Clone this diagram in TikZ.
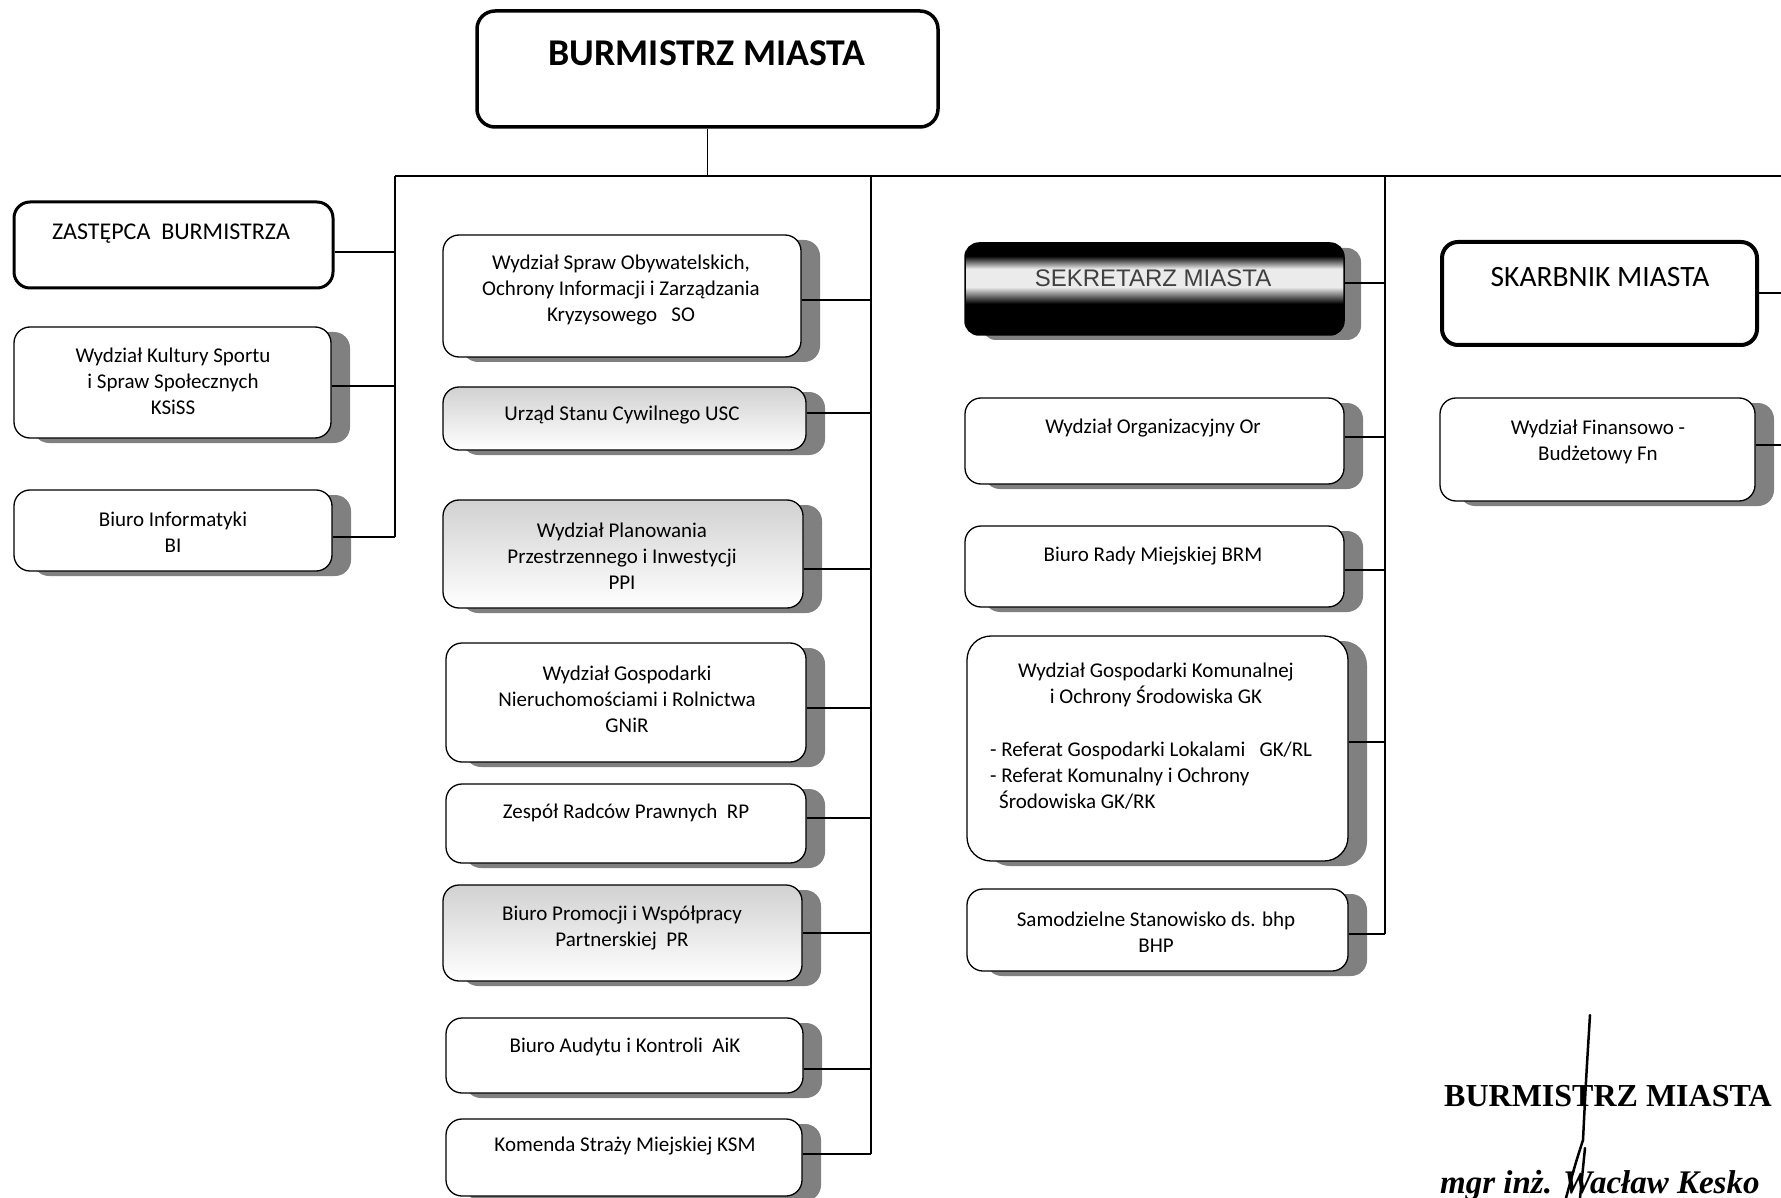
\documentclass[tikz,border=0pt]{standalone}
\usepackage{fontspec}
\setmainfont{Carlito}
\newfontfamily\sekfont{Liberation Sans}
\newfontfamily\signfont{Liberation Serif}
\usetikzlibrary{fit,shadows,calc}

% band of light across the dark secretary box
\pgfdeclareverticalshading{sekband}{100bp}{color(0bp)=(black); color(42bp)=(black); color(51bp)=(black!8); color(61bp)=(black!8); color(68bp)=(black); color(100bp)=(black)}

\begin{document}
\begin{tikzpicture}[x=1pt, y=-1pt,
    deptbox/.style={draw, line width=1.3pt, rounded corners=16pt, fill=white, inner sep=0pt,
        drop shadow={shadow xshift=19pt, shadow yshift=-5pt, fill=black!50, opacity=1}},
    greytop/.style={top color=black!18, middle color=white, bottom color=white},
    chiefbox/.style={draw, line width=3.5pt, rounded corners=16pt, fill=white, inner sep=0pt},
    sekbox/.style={draw, line width=1.5pt, rounded corners=14pt, inner sep=0pt, shade, shading=sekband,
        drop shadow={shadow xshift=17pt, shadow yshift=-5pt, fill=black!50, opacity=1}},
    txt/.style={font=\fontsize{21}{26}\selectfont, align=center, inner sep=0pt, yshift=-2.5pt},
    wire/.style={line width=2pt}]

    % Page frame
    \useasboundingbox (0,0) rectangle (1781,1198);
    \clip (0,0) rectangle (1781,1198);

    % Bus coordinates
    \coordinate (busL) at (395,176);
    \coordinate (busM) at (871,176);
    \coordinate (busS) at (1385,176);
    \coordinate (edgeR) at (1781,176);

    % Mayor
    \node[chiefbox, rounded corners=18pt, fit={(477,11) (938,127)}] (burm) {};
    \node[font=\fontsize{37.8}{40}\selectfont\bfseries, inner sep=0pt, yshift=-2pt] (burm-t) at (707,51) {BURMISTRZ MIASTA};

    % Left column
    \node[chiefbox, line width=3pt, fit={(14,202) (333,288)}] (zast) {};
    \node[txt, font=\fontsize{24}{28}\selectfont] (zast-t) at (171,231) {ZASTĘPCA~~BURMISTRZA};
    \node[deptbox, fit={(14,327) (331,438)}] (ksiss) {};
    \node[txt] (ksiss-t) at (173,379) {Wydział Kultury Sportu\\i Spraw Społecznych\\KSiSS};
    \node[deptbox, fit={(14,490) (332,571)}] (bi) {};
    \node[txt] (bi-t) at (173,530) {Biuro Informatyki\\BI};

    % Middle column
    \node[deptbox, fit={(443,235) (801,357)}] (so) {};
    \node[txt] (so-t) at (621,288) {Wydział Spraw Obywatelskich,\\Ochrony Informacji i Zarządzania\\Kryzysowego~~~SO};
    \node[deptbox, greytop, fit={(443,387) (806,450)}] (usc) {};
    \node[txt] (usc-t) at (622,413) {Urząd Stanu Cywilnego USC};
    \node[deptbox, greytop, fit={(443,500) (803,608)}] (ppi) {};
    \node[txt] (ppi-t) at (622,554) {Wydział Planowania\\Przestrzennego i Inwestycji\\PPI};
    \node[deptbox, fit={(446,643) (806,762)}] (gnir) {};
    \node[txt] (gnir-t) at (627,697) {Wydział Gospodarki\\Nieruchomościami i Rolnictwa\\GNiR};
    \node[deptbox, fit={(446,784) (806,863)}] (rp) {};
    \node[txt] (rp-t) at (626,810) {Zespół Radców Prawnych~~RP};
    \node[deptbox, greytop, fit={(443,885) (802,981)}] (pr) {};
    \node[txt] (pr-t) at (622,926) {Biuro Promocji i Współpracy\\Partnerskiej~~PR};
    \node[deptbox, fit={(446,1018) (803,1093)}] (aik) {};
    \node[txt] (aik-t) at (625,1044) {Biuro Audytu i Kontroli~~AiK};
    \node[deptbox, fit={(446,1119) (802,1196)}] (ksm) {};
    \node[txt] (ksm-t) at (625,1144) {Komenda Straży Miejskiej KSM};

    % Secretary column
    \node[sekbox, fit={(965,243) (1344,335)}] (sek) {};
    \node[inner sep=0pt, font=\fontsize{24}{27}\selectfont\sekfont, text=black!75, yshift=-2pt] (sek-t) at (1153,276) {SEKRETARZ MIASTA};
    \node[deptbox, fit={(965,398) (1344,484)}] (or) {};
    \node[txt] (or-t) at (1153,426) {Wydział Organizacyjny Or};
    \node[deptbox, fit={(965,526) (1344,607)}] (brm) {};
    \node[txt] (brm-t) at (1153,554) {Biuro Rady Miejskiej BRM};
    \node[deptbox, rounded corners=24pt, fit={(967,636) (1348,861)}] (gk) {};
    \node[txt] (gk-t) at (1156,682) {Wydział Gospodarki Komunalnej\\i Ochrony Środowiska GK};
    \node[txt, align=left, anchor=west] (gk-l) at (990,773) {- Referat Gospodarki Lokalami~~~GK/RL\\- Referat Komunalny i Ochrony\\\hspace{9pt}Środowiska GK/RK};
    \node[deptbox, fit={(967,889) (1348,971)}] (bhp) {};
    \node[txt] (bhp-t) at (1156,930) {Samodzielne Stanowisko ds. bhp\\BHP};

    % Treasurer column
    \node[chiefbox, line width=4pt, fit={(1442,242) (1757,345)}] (skarb) {};
    \node[inner sep=0pt, font=\fontsize{29.5}{32}\selectfont, yshift=-1.5pt] (skarb-t) at (1600,276) {SKARBNIK MIASTA};
    \node[deptbox, fit={(1440,398) (1755,501)}] (fn) {};
    \node[txt] (fn-t) at (1598,439) {Wydział Finansowo -\\Budżetowy Fn};

    % Connectors (offset = how far below the box centre the line leaves)
    \draw[line width=1.2pt] (burm.south) -- (burm.south |- busL);
    \draw[line width=2.5pt] (busL) -- (edgeR);
    \foreach \n/\dy in {zast/7,ksiss/3.5,bi/6.5}
        \draw[wire] ($(\n.east)+(0,\dy)$) coordinate (\n-c) -- (\n-c -| busL);
    \foreach \n/\dy in {so/4,usc/-5.5,ppi/15,gnir/5.5,rp/-5.5,pr/0,aik/13.5,ksm/-3.5}
        \draw[wire] ($(\n.east)+(0,\dy)$) coordinate (\n-c) -- (\n-c -| busM);
    \foreach \n/\dy in {sek/-6,or/-4,brm/3.5,gk/-6.5,bhp/4}
        \draw[wire] ($(\n.east)+(0,\dy)$) coordinate (\n-c) -- (\n-c -| busS);
    \foreach \n/\dy in {skarb/0,fn/-4.5}
        \draw[wire] ($(\n.east)+(0,\dy)$) coordinate (\n-c) -- (\n-c -| edgeR);
    \draw[wire] (busL) -- (busL |- bi-c);
    \draw[wire] (busM) -- (busM |- ksm-c);
    \draw[wire] (busS) -- (busS |- bhp-c);

    % Signature
    \node[anchor=west, inner sep=0pt, font=\fontsize{32}{35}\selectfont\signfont\bfseries] (sig-t) at (1444,1096) {BURMISTRZ MIASTA};
    \node[anchor=west, inner sep=0pt, font=\fontsize{33}{36}\selectfont\signfont\bfseries\itshape] (sig-n) at (1440,1185) {mgr inż. Wacław Kesko};
    \draw[line width=2.5pt, line cap=round] (1590,1015) .. controls (1586,1080) .. (1583,1140) .. controls (1575,1165) .. (1566,1198);
    \draw[line width=2.5pt, line cap=round] (1585,1148) -- (1580,1198);
\end{tikzpicture}
\end{document}
